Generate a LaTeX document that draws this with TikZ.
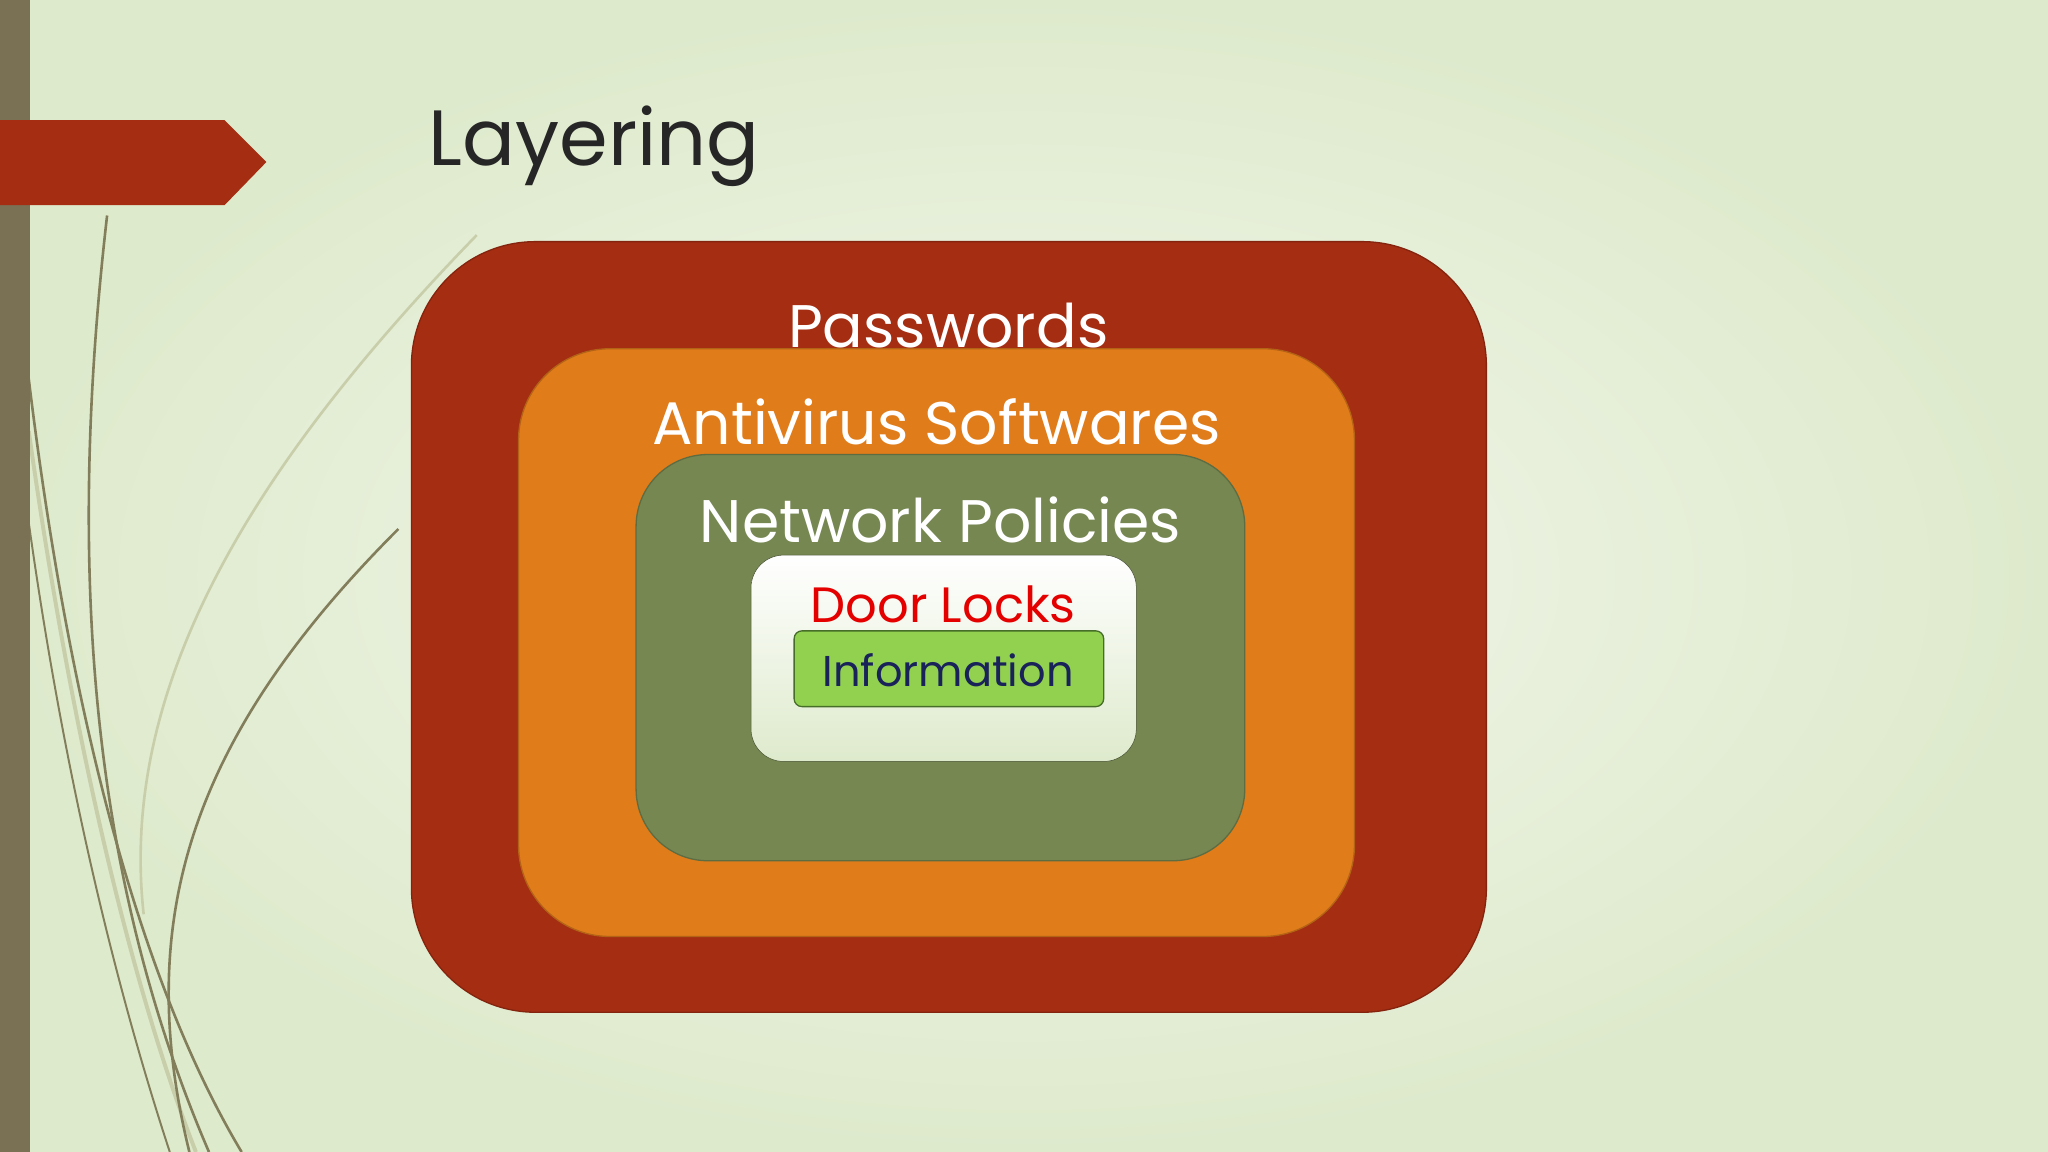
\documentclass[tikz,border=0pt]{standalone}
\usepackage{fontspec}
\setmainfont{Poppins}
\definecolor{bgA}{RGB}{244,247,238}
\definecolor{bgB}{RGB}{222,234,204}
\definecolor{barc}{RGB}{122,112,84}
\definecolor{redc}{RGB}{165,45,18}
\definecolor{orc}{RGB}{224,124,26}
\definecolor{grc}{RGB}{118,135,82}
\definecolor{infc}{RGB}{146,208,80}
\definecolor{infb}{RGB}{70,110,40}
\definecolor{navy}{RGB}{25,35,90}
\definecolor{stem}{RGB}{130,125,90}
\definecolor{stemL}{RGB}{200,205,170}
\tikzset{
 layer/.style={draw=#1!80!black, line width=1pt},
 lbl/.style={text=white, font=\fontsize{46}{46}\selectfont, inner sep=0pt}
}
\begin{document}
\begin{tikzpicture}[x=1pt,y=-1pt]
\useasboundingbox (0,0) rectangle (1568,882);
\shade[inner color=bgA, outer color=bgB] (0,0) rectangle (1568,882);
% stems
\draw[stemL, line width=3pt] (22,330) .. controls (60,600) and (110,780) .. (150,882);
\draw[stemL, line width=2pt] (365,180) .. controls (200,350) and (90,520) .. (110,700);
\draw[stem, line width=2pt] (82,165) .. controls (55,400) and (60,650) .. (160,882);
\draw[stem, line width=2pt] (22,290) .. controls (50,520) and (100,740) .. (185,882);
\draw[stem, line width=2pt] (305,405) .. controls (150,560) and (100,700) .. (145,882);
\draw[stem, line width=1.5pt] (22,400) .. controls (50,600) and (90,760) .. (130,882);
\fill[barc] (0,0) rectangle (23,882);
\fill[redc] (0,92) -- (172,92) -- (204,124) -- (172,157) -- (0,157) -- cycle;
\node[anchor=base west, inner sep=0pt, text=black!85, font=\fontsize{60}{60}\selectfont] (title) at (328,127) {Layering};
% layers
\draw[layer=redc, fill=redc, rounded corners=95pt] (315,185) rectangle (1138,775);
\draw[layer=orc, fill=orc, rounded corners=70pt] (397,267) rectangle (1037,717);
\draw[layer=grc, fill=grc, rounded corners=55pt] (487,348) rectangle (953,659);
\shade[top color=white, bottom color=bgB, draw=grc!60!black, rounded corners=25pt] (575,425) rectangle (870,583);
\draw[fill=infc, draw=infb, rounded corners=6pt, line width=1pt] (608,483) rectangle (845,541);
\node[lbl] (pw) at (726,249) {Passwords};
\node[lbl] (av) at (717,323) {Antivirus Softwares};
\node[lbl] (np) at (720,398) {Network Policies};
\node[lbl, text=red!90!black, font=\fontsize{38}{38}\selectfont] (dl) at (722,463) {Door Locks};
\node[lbl, text=navy, font=\fontsize{33}{33}\selectfont] (inf) at (726,513) {Information};
\end{tikzpicture}
\end{document}
